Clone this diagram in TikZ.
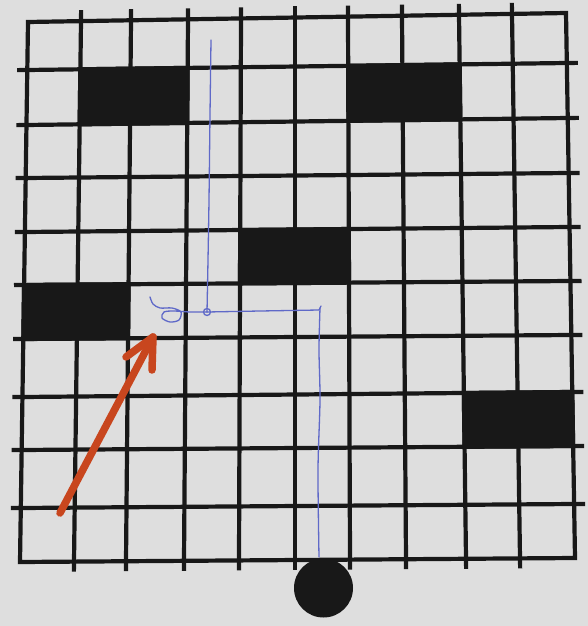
\documentclass[tikz,border=0pt]{standalone}
\usetikzlibrary{calc}
\definecolor{bgpaper}{RGB}{222,222,222}
\definecolor{ink}{RGB}{24,24,24}
\definecolor{penblue}{RGB}{95,105,200}
\definecolor{markorange}{RGB}{200,70,30}
\tikzset{
  gridline/.style={draw=ink, line width=4.2pt, line join=miter},
  blackcell/.style={fill=ink, draw=ink, line width=4.2pt, line join=miter},
  penline/.style={draw=penblue, line width=1.3pt, line cap=round, line join=round},
  markarrow/.style={draw=markorange, line width=7.5pt, line cap=round, line join=round},
}
\begin{document}
\begin{tikzpicture}[x=1pt,y=-1pt]
\fill[bgpaper] (0,0) rectangle (588,626);
\useasboundingbox (0,0) rectangle (588,626);
% grid reference points
\foreach \xx [count=\i from 0] in {28,81,131,188,241,295,348,402,459,512,566}
  { \coordinate (t\i) at (\xx,{22-0.9*\i}); }
\foreach \xx [count=\i from 0] in {20,74,126,184,239,295,350,406,466,520,575}
  { \coordinate (b\i) at (\xx,{562-0.4*\i}); }
\foreach \yy [count=\j from 0] in {22,70,125,178,232,285,339,397,450,508,562}
  { \coordinate (l\j) at ({28-0.8*\j},\yy); }
\foreach \yy [count=\j from 0] in {13,63,118,173,227,281,335,392,446,504,558}
  { \coordinate (r\j) at ({566+0.9*\j},\yy); }
\foreach \i in {0,...,10}{
  \foreach \j in {0,...,10}{
    \edef\gridpt{\noexpand\coordinate (p\i-\j) at (intersection of t\i--b\i\space and l\j--r\j);}
    \gridpt
  }
}
% interior lines with ticks
\foreach \i in {1,...,9}{
  \draw[gridline] ($(t\i)!-11pt!(b\i)$) -- ($(b\i)!-10pt!(t\i)$);
  \draw[gridline] ($(l\i)!-10pt!(r\i)$) -- ($(r\i)!-11pt!(l\i)$);
}
% border
\draw[gridline] (t0) -- (t10) -- (b10) -- (b0) -- cycle;
% black cells
\draw[blackcell] (p1-1) -- (p3-1) -- (p3-2) -- (p1-2) -- cycle;
\draw[blackcell] (p6-1) -- (p8-1) -- (p8-2) -- (p6-2) -- cycle;
\draw[blackcell] (p4-4) -- (p6-4) -- (p6-5) -- (p4-5) -- cycle;
\draw[blackcell] (p0-5) -- (p2-5) -- (p2-6) -- (p0-6) -- cycle;
\draw[blackcell] (p8-7) -- (p10-7) -- (p10-8) -- (p8-8) -- cycle;
% start disc
\fill[ink] (323.5,588) circle (29.5);
% pen path
\draw[penline] plot[smooth] coordinates {(211,40) (210,115) (209,200) (208,260) (207,312)};
\draw[penline] plot[smooth] coordinates {(150,297) (153,304) (160,308) (172,308) (181,312) (179,320) (170,322) (162,318) (164,312) (174,311) (190,312) (207,312)};
\draw[penline] (207,312) -- (260,311) -- (319,310) -- (321,306);
\draw[penline] (207,312) circle (3.5);
\draw[penline] plot[smooth] coordinates {(320,308) (319,350) (320,400) (318,470) (319,557)};
% orange arrow
\draw[markarrow] (60,513) -- (153,337);
\draw[markarrow] (126,357) -- (153,337) -- (152,370);
\end{tikzpicture}
\end{document}
